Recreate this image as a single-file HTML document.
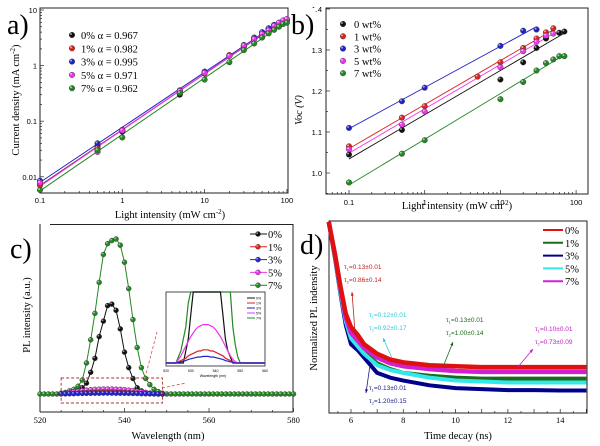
<!DOCTYPE html>
<html><head><meta charset="utf-8"><style>
html,body{margin:0;padding:0;background:#fff;}
svg{display:block;}
.t{font-family:"Liberation Serif",serif;}
.s{font-family:"Liberation Sans",sans-serif;}
</style></head><body>
<svg id="fig" width="600" height="446" viewBox="0 0 600 446" xmlns="http://www.w3.org/2000/svg">
<g id="pa"></g>
<g id="pb"></g>
<g id="pc"></g>
<g id="pd"></g>
</svg>
<script>
// ---------- data: panel a ----------
const aLight=[0.1,0.5,1,5,10,20,30,40,50,60,70,80,90,100];
const aJ0=[0.0075,0.035,0.065,0.30,0.75,1.5,2.2,3.0,3.8,4.5,5.2,5.7,6.1,6.5];
const aJ1=[0.007,0.033,0.07,0.34,0.72,1.55,2.2,3.0,3.8,4.6,5.3,5.8,6.3,6.7];
const aJ3=[0.0085,0.040,0.068,0.36,0.78,1.5,2.35,3.2,4.0,4.7,5.4,5.9,6.4,6.8];
const aJ5=[0.0078,0.028,0.068,0.35,0.74,1.5,2.3,3.0,3.7,4.3,5.2,5.9,6.5,6.9];
const aJ7=[0.0058,0.030,0.051,0.32,0.56,1.15,1.9,2.5,3.2,3.8,4.4,5.0,5.6,5.9];
const aLegend=["0% α = 0.967","1% α = 0.982","3% α = 0.995","5% α = 0.971","7% α = 0.962"];
const aYTicks=[0.01,0.1,1,10];
const aYTickLabels=["0.01","0.1","1","10"];
const aXTicks=[0.1,1,10,100];
const aXTickLabels=["0.1","1","10","100"];
// ---------- data: panel b ----------
const bL0=[0.1,0.5,10,20,30,40,60,70];
const bV0=[1.045,1.105,1.228,1.27,1.305,1.328,1.342,1.345];
const bL1=[0.1,0.5,1,5,10,20,30,40,50];
const bV1=[1.065,1.135,1.163,1.235,1.27,1.305,1.328,1.343,1.353];
const bL3=[0.1,0.5,1,10,20,30];
const bV3=[1.11,1.175,1.208,1.31,1.347,1.35];
const bL5=[0.1,0.5,1,10,20,30,40,50];
const bV5=[1.058,1.118,1.15,1.258,1.297,1.32,1.335,1.34];
const bL7=[0.1,0.5,1,10,20,30,40,50,60,70];
const bV7=[0.977,1.047,1.08,1.18,1.222,1.25,1.268,1.277,1.285,1.285];
const bLegend=["0 wt%","1 wt%","3 wt%","5 wt%","7 wt%"];
const bYTicks=[1.0,1.1,1.2,1.3,1.4];
const bYTickLabels=["1.0","1.1","1.2","1.3","1.4"];
const bXTicks=[0.1,1,10,100];
const bXTickLabels=["0.1","1","10","100"];
// ---------- data: panel c (1 nm grid from 520) ----------
const cWl=[];for(let w=520;w<=580;w++)cWl.push(w);
const cPeakWl=[524,525,526,527,528,529,530,531,532,533,534,535,536,537,538,539,540,541,542,543,544,545,546,547,548,549,550];
const cI7=[0,0.5,1,2,3,5,9,20,35,52,72,90,97,99,100,96,85,68,48,30,17,10,6,3,1.5,0.5,0];
const cI0=[0,0,0,0,1,2,4,7,14,23,37,47,57,58,54,42,27,17,10,4,2,1,0.5,0,0,0,0];
const cI5=[0,0.3,0.6,1,1.4,1.8,2.2,2.5,2.8,3,3.1,3.2,3.2,3.2,3.1,3,2.8,2.5,2.2,1.8,1.4,1,0.6,0.3,0.1,0,0];
const cI1=[0,0.1,0.2,0.3,0.4,0.6,0.7,0.8,0.9,1,1,1.1,1.1,1.1,1,1,0.9,0.8,0.7,0.6,0.4,0.3,0.2,0.1,0,0,0];
const cI3=[0,0.05,0.1,0.15,0.2,0.3,0.35,0.4,0.45,0.5,0.5,0.55,0.55,0.55,0.5,0.5,0.45,0.4,0.35,0.3,0.2,0.15,0.1,0.05,0,0,0];
const cLegend=["0%","1%","3%","5%","7%"];
const cXTicks=[520,540,560,580];
const cXTickLabels=["520","540","560","580"];
// ---------- data: panel d ----------
const dT=[5.15,5.4,5.6,5.8,6.0,6.25,6.5,7,7.5,8,9,10,11,12,13,14,15];
const dRed=[1.0,0.82,0.66,0.52,0.45,0.41,0.36,0.31,0.28,0.265,0.25,0.245,0.24,0.24,0.24,0.24,0.24];
const dPink=[1.0,0.82,0.65,0.5,0.42,0.38,0.34,0.29,0.26,0.245,0.23,0.22,0.215,0.215,0.215,0.215,0.215];
const dGreen=[1.0,0.81,0.64,0.49,0.40,0.36,0.32,0.26,0.23,0.21,0.195,0.185,0.18,0.18,0.18,0.18,0.18];
const dCyan=[1.0,0.81,0.63,0.48,0.39,0.35,0.31,0.25,0.225,0.21,0.185,0.17,0.165,0.16,0.16,0.16,0.16];
const dBlue=[1.0,0.80,0.62,0.46,0.36,0.33,0.29,0.21,0.185,0.17,0.145,0.13,0.125,0.12,0.12,0.118,0.118];
const dLegend=["0%","1%","3%","5%","7%"];
const dXTicks=[6,8,10,12,14];
const dXTickLabels=["6","8","10","12","14"];

const NS="http://www.w3.org/2000/svg";
const COL=["#111111","#dd2222","#2222cc","#ee33ee","#228822"];
const DCOL=["#e01010","#1a6b1a","#00008b","#33e8e8","#d020d0"];
function mk(parent,tag,attrs,text){const e=document.createElementNS(NS,tag);for(const k in attrs)e.setAttribute(k,attrs[k]);if(text!==undefined)e.textContent=text;parent.appendChild(e);return e;}
function ball(g,x,y,c,r){
  const e=mk(g,'circle',{cx:x,cy:y,r:r,fill:c,stroke:'#333','stroke-width':0.4});
  
  
  const h=mk(g,'circle',{cx:x-r*0.35,cy:y-r*0.35,r:r*0.35,fill:'#fff',opacity:0.6});
  
  
}
function fit(xs,ys){const n=xs.length;let sx=0,sy=0,sxx=0,sxy=0;for(let i=0;i<n;i++){sx+=xs[i];sy+=ys[i];sxx+=xs[i]*xs[i];sxy+=xs[i]*ys[i];}const m=(n*sxy-sx*sy)/(n*sxx-sx*sx);return [m,(sy-m*sx)/n];}
const L=Math.log10;

// ================= PANEL A =================
(function(){
const g=document.getElementById('pa');
const xa=v=>40+(L(v)+1)*82.3, ya=v=>10+(1-L(v))*55.6;
const fr=mk(g,'rect',{x:40,y:8,width:248,height:185,fill:'none',stroke:'#222','stroke-width':1});

for(let e=-3;e<=1;e++){for(let k=1;k<10;k++){const v=k*Math.pow(10,e);const y=ya(v);if(y<8||y>193)continue;mk(g,'line',{x1:40,x2:40+(k==1?4:2),y1:y,y2:y,stroke:'#222','stroke-width':0.7});}}
for(let e=-1;e<=2;e++){for(let k=1;k<10;k++){const v=k*Math.pow(10,e);const x=xa(v);if(x>288.5)continue;mk(g,'line',{x1:x,x2:x,y1:193,y2:193-(k==1?4:2),stroke:'#222','stroke-width':0.7});}}
aYTicks.forEach((v,i)=>{const t=mk(g,'text',{x:37,y:ya(v)+3,'font-size':7.5,'text-anchor':'end',class:'s'},aYTickLabels[i]);});
aXTicks.forEach((v,i)=>{const t=mk(g,'text',{x:xa(v),y:203,'font-size':7.5,'text-anchor':'middle',class:'s'},aXTickLabels[i]);});
const series=[aJ0,aJ1,aJ3,aJ5,aJ7];
series.forEach((s,si)=>{
  const [m,b]=fit(aLight.map(L),s.map(L));
  const ln=mk(g,'line',{x1:xa(0.1),y1:ya(Math.pow(10,m*-1+b)),x2:xa(100),y2:ya(Math.pow(10,m*2+b)),stroke:COL[si],'stroke-width':1});
  
});
series.forEach((s,si)=>{s.forEach((v,i)=>ball(g,xa(aLight[i]),ya(v),COL[si],2.8));});
aLegend.forEach((t,i)=>{const y=35+i*13.3;ball(g,72,y,COL[i],2.8);const tx=mk(g,'text',{x:81,y:y+4,'font-size':10.5,class:'t'},t);});
let t=mk(g,'text',{x:170,y:218,'font-size':10.5,'text-anchor':'middle',class:'t'});t.innerHTML='Light intensity (mW cm<tspan dy="-4" font-size="7">-2</tspan><tspan dy="4">)</tspan>';

t=mk(g,'text',{x:0,y:0,'font-size':10.5,'text-anchor':'middle',class:'t',transform:'translate(19,100) rotate(-90)'});t.innerHTML='Current density (mA cm<tspan dy="-4" font-size="7">-2</tspan><tspan dy="4">)</tspan>';

t=mk(g,'text',{x:7,y:34,'font-size':28,class:'t'},'a)');
const l=mk(g,'line',{x1:50,x2:293,y1:224.5,y2:224.5,stroke:'#222','stroke-width':1});
})();

// ================= PANEL B =================
(function(){
const g=document.getElementById('pb');
const xb=v=>349+(L(v)+1)*75.7, yb=v=>173-(v-1.0)*410;
const fr=mk(g,'rect',{x:326,y:8,width:262,height:186,fill:'none',stroke:'#222','stroke-width':1});

for(let v=0.95;v<=1.401;v+=0.05){const y=yb(v);if(y>194)continue;mk(g,'line',{x1:326,x2:326+(Math.abs(v*10-Math.round(v*10))<0.01?4:2),y1:y,y2:y,stroke:'#222','stroke-width':0.7});}
for(let e=-2;e<=2;e++){for(let k=1;k<10;k++){const v=k*Math.pow(10,e);const x=xb(v);if(x<326||x>588)continue;mk(g,'line',{x1:x,x2:x,y1:194,y2:194-(k==1?4:2),stroke:'#222','stroke-width':0.7});}}
bYTicks.forEach((v,i)=>{const t=mk(g,'text',{x:322,y:yb(v)+3,'font-size':7.5,'text-anchor':'end',class:'s'},bYTickLabels[i]);});
bXTicks.forEach((v,i)=>{const t=mk(g,'text',{x:xb(v),y:205,'font-size':7.5,'text-anchor':'middle',class:'s'},bXTickLabels[i]);});
const Ls=[bL0,bL1,bL3,bL5,bL7],Vs=[bV0,bV1,bV3,bV5,bV7];
Vs.forEach((s,si)=>{const xs=Ls[si];const [m,b]=fit(xs.map(L),s);const x0=L(xs[0]),x1=L(xs[xs.length-1]);
  const ln=mk(g,'line',{x1:xb(xs[0]),y1:yb(m*x0+b),x2:xb(xs[xs.length-1]),y2:yb(m*x1+b),stroke:COL[si],'stroke-width':0.9});
  });
Vs.forEach((s,si)=>{s.forEach((v,i)=>ball(g,xb(Ls[si][i]),yb(v),COL[si],2.8));});
bLegend.forEach((t,i)=>{const y=24+i*12.3;ball(g,343,y,COL[i],2.8);const tx=mk(g,'text',{x:354,y:y+4,'font-size':10.5,class:'t'},t);});
let t=mk(g,'text',{x:457,y:209,'font-size':10.5,'text-anchor':'middle',class:'t'});t.innerHTML='Light intensity (mW cm<tspan dy="-4" font-size="7">-2</tspan><tspan dy="4">)</tspan>';

t=mk(g,'text',{x:0,y:0,'font-size':10,'text-anchor':'middle',class:'t',transform:'translate(302,110) rotate(-90)','font-style':'italic'},'Voc (V)');

const bg=mk(g,'rect',{x:293,y:8,width:22,height:28,fill:'#fff'});
t=mk(g,'text',{x:291,y:34,'font-size':28,class:'t'},'b)');
})();

// ================= PANEL C =================
(function(){
const g=document.getElementById('pc');
const xc=w=>40+(w-520)*4.225, yc=I=>394-I*1.55;
mk(g,'line',{x1:40,x2:40,y1:224,y2:412,stroke:'#222','stroke-width':1});
mk(g,'line',{x1:40,x2:293,y1:412,y2:412,stroke:'#222','stroke-width':1});
mk(g,'line',{x1:293,x2:293,y1:224,y2:412,stroke:'#222','stroke-width':1});
for(let w=520;w<=580;w+=5){const x=xc(w);mk(g,'line',{x1:x,x2:x,y1:412,y2:412-(w%20==0?4:2),stroke:'#222','stroke-width':0.7});}
cXTicks.forEach((v,i)=>{const t=mk(g,'text',{x:xc(v),y:423,'font-size':8.5,'text-anchor':'middle',class:'t'},cXTickLabels[i]);});
const val=(arr,w)=>{const k=cPeakWl.indexOf(w);return k<0?0:arr[k];};
const ser=[cI0,cI1,cI3,cI5,cI7];
const order=[4,0,3,1,2];
order.forEach(si=>{
  const s=ser[si];
  const wls=(si==4)?cWl:cPeakWl;
  const pts=wls.map(w=>xc(w)+','+yc(val(s,w))).join(' ');
  const pl=mk(g,'polyline',{points:pts,fill:'none',stroke:COL[si],'stroke-width':1});
  
  cWl.forEach(w=>{
    if(si==0&&val(s,w)==0)return;
    if(si!=4&&si!=0&&(w<525||w>549))return;
    ball(g,xc(w),yc(val(s,w)),COL[si],2.5);});
});
// zoom box
const zb=mk(g,'rect',{x:xc(525),y:378,width:xc(549)-xc(525),height:25,fill:'none',stroke:'#a33','stroke-dasharray':'3,2','stroke-width':0.9});

mk(g,'line',{x1:145,y1:378,x2:157,y2:332,stroke:'#c55','stroke-dasharray':'3,2','stroke-width':0.8});
mk(g,'line',{x1:162,y1:388,x2:186,y2:383,stroke:'#c55','stroke-dasharray':'3,2','stroke-width':0.8});
// inset
const ig=mk(g,'g',{});
mk(ig,'rect',{x:166,y:292,width:99,height:74,fill:'#fff',stroke:'#222','stroke-width':0.8});
const xi=w=>166+(w-520)*99/40, yi=I=>363-I*12;
[4,0,3,1,2].forEach(si=>{const s=ser[si];const pts=[];for(let w=520;w<=560;w++){let y=yi(val(s,w));if(y<292)y=292;pts.push(xi(w)+','+y);}
  mk(ig,'polyline',{points:pts.join(' '),fill:'none',stroke:COL[si],'stroke-width':1.2});});
[520,530,540,550,560].forEach(w=>mk(ig,'text',{x:xi(w),y:372,'font-size':3.5,'text-anchor':'middle',class:'s'},String(w)));
mk(ig,'text',{x:213,y:377,'font-size':3.5,'text-anchor':'middle',class:'s'},'Wavelength (nm)');
cLegend.forEach((t,i)=>{mk(ig,'line',{x1:247,x2:255,y1:298+i*5,y2:298+i*5,stroke:COL[i],'stroke-width':1});mk(ig,'text',{x:256,y:299.5+i*5,'font-size':3.5,class:'s'},t);});
// legend
cLegend.forEach((t,i)=>{const y=234+i*12.8;const ln=mk(g,'line',{x1:250,x2:267,y1:y,y2:y,stroke:COL[i],'stroke-width':1});
  
  ball(g,258,y,COL[i],2.5);const tx=mk(g,'text',{x:268,y:y+4,'font-size':10.5,class:'t'},t);});
let t=mk(g,'text',{x:168,y:439,'font-size':10.5,'text-anchor':'middle',class:'t'},'Wavelength (nm)');
t=mk(g,'text',{x:0,y:0,'font-size':10.5,'text-anchor':'middle',class:'t',transform:'translate(30,315) rotate(-90)'},'PL intensity (a.u.)');
t=mk(g,'text',{x:10,y:258,'font-size':28,class:'t'},'c)');
})();

// ================= PANEL D =================
(function(){
const g=document.getElementById('pd');
const xd=t=>351+(t-6)*26.15, yd=v=>413-v*191;
const fr=mk(g,'rect',{x:329,y:221,width:258,height:192,fill:'none',stroke:'#222','stroke-width':1});

for(let t=5.5;t<=15;t+=0.5){const x=xd(t);if(x<330)continue;mk(g,'line',{x1:x,x2:x,y1:413,y2:413-(t%1==0?4:2),stroke:'#222','stroke-width':0.7});}
dXTicks.forEach((v,i)=>{const t=mk(g,'text',{x:xd(v),y:423,'font-size':8.5,'text-anchor':'middle',class:'t'},dXTickLabels[i]);});
const ser=[dRed,dGreen,dBlue,dCyan,dPink];
[2,1,3,4,0].forEach(si=>{const s=ser[si];const pts=dT.map((t,i)=>xd(t)+','+yd(s[i])).join(' ');
  const pl=mk(g,'polyline',{points:pts,fill:'none',stroke:DCOL[si],'stroke-width':si==0||si==4?4.5:4,'stroke-linejoin':'round'});
  });
dLegend.forEach((t,i)=>{const y=230+i*12.8;const ln=mk(g,'line',{x1:543,x2:563,y1:y,y2:y,stroke:DCOL[i],'stroke-width':2});
  
  const tx=mk(g,'text',{x:565,y:y+4,'font-size':10.5,class:'t'},t);});
const ann=[[344,269,'#c02020','0.13±0.01','0.86±0.14',[355,332,352,292]],
 [369,317,'#30c8d8','0.12±0.01','0.92±0.17',[392,358,383,338]],
 [446,322,'#1a6b1a','0.13±0.01','1.00±0.14',[443,367,453,342]],
 [535,331,'#c020c0','0.10±0.01','0.73±0.09',[518,367,533,349]],
 [369,390,'#1a1a8b','0.13±0.01','1.20±0.15',[370,365,366,393]]];
ann.forEach(a=>{
  const t1=mk(g,'text',{x:a[0],y:a[1],'font-size':6.5,fill:a[2],class:'s'});t1.innerHTML='τ<tspan font-size="4" dy="1.5">1</tspan><tspan dy="-1.5">='+a[3]+'</tspan>';
  
  const t2=mk(g,'text',{x:a[0],y:a[1]+13,'font-size':6.5,fill:a[2],class:'s'});t2.innerHTML='τ<tspan font-size="4" dy="1.5">2</tspan><tspan dy="-1.5">='+a[4]+'</tspan>';
  
  const [x1,y1,x2,y2]=a[5];const ar=mk(g,'line',{x1,y1,x2,y2,stroke:a[2],'stroke-width':0.8});
  const ang=Math.atan2(y2-y1,x2-x1);const h=4;
  mk(g,'polygon',{points:`${x2},${y2} ${x2-h*Math.cos(ang-0.4)},${y2-h*Math.sin(ang-0.4)} ${x2-h*Math.cos(ang+0.4)},${y2-h*Math.sin(ang+0.4)}`,fill:a[2]});
});
let t=mk(g,'text',{x:458,y:439,'font-size':10.5,'text-anchor':'middle',class:'t'},'Time decay (ns)');
t=mk(g,'text',{x:0,y:0,'font-size':10.5,'text-anchor':'middle',class:'t',transform:'translate(317,318) rotate(-90)'},'Normalized PL indensity');
t=mk(g,'text',{x:300,y:254,'font-size':28,class:'t'},'d)');
})();
</script>
</body></html>
